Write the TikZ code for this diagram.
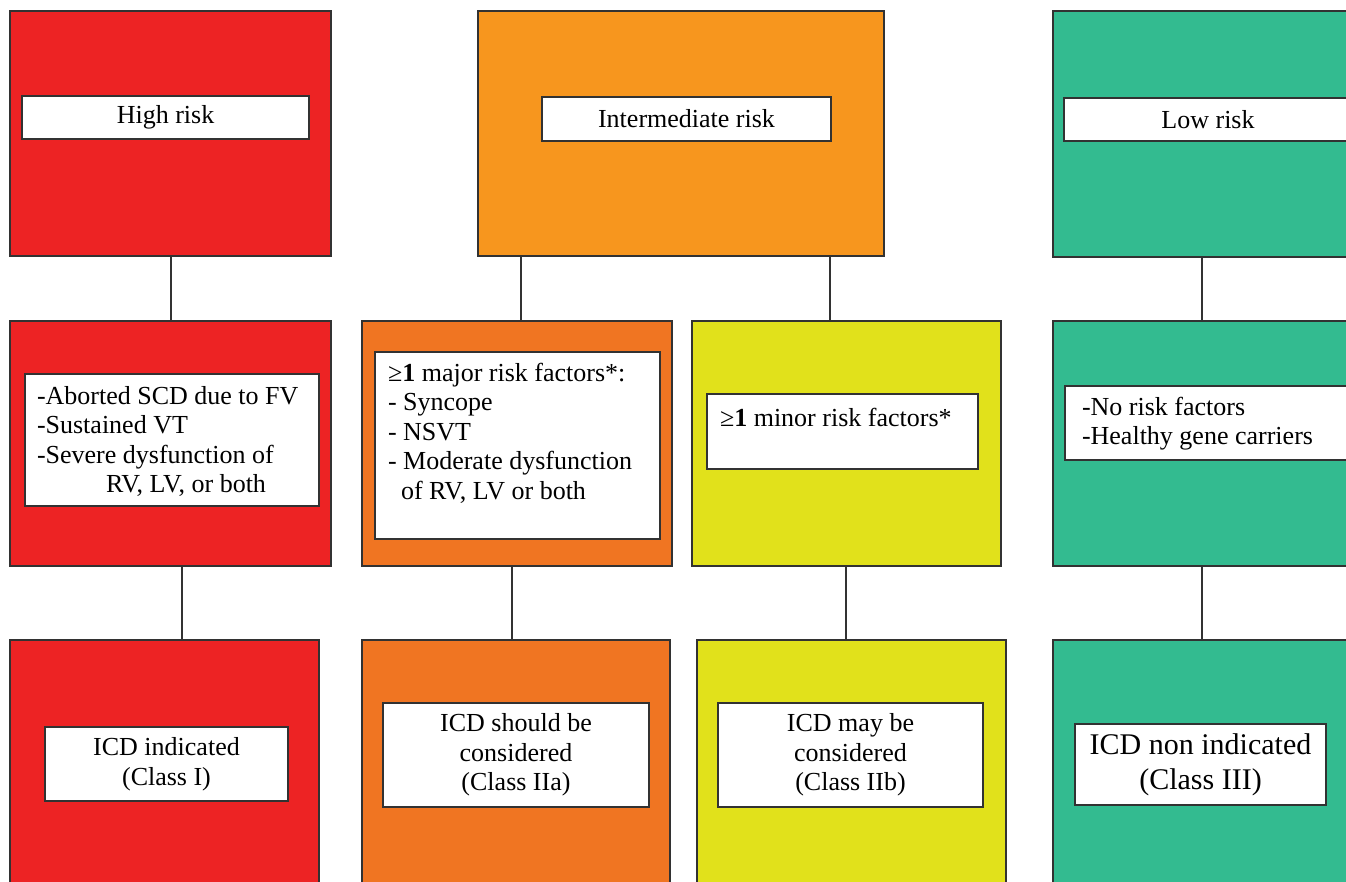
\documentclass[tikz,border=0pt]{standalone}
\usepackage{fontspec}
\setmainfont{Liberation Serif}
\definecolor{cred}{RGB}{237,35,36}
\definecolor{corangeA}{RGB}{247,150,30}
\definecolor{corangeB}{RGB}{240,117,34}
\definecolor{cyellow}{RGB}{225,225,27}
\definecolor{cgreen}{RGB}{51,187,144}
\definecolor{bordergray}{RGB}{50,50,50}
\begin{document}
\begin{tikzpicture}[x=1pt,y=-1pt,
  cbox/.style={draw=bordergray, line width=1.3pt, inner sep=0pt, outer sep=0pt},
  wbox/.style={draw=bordergray, fill=white, line width=1.3pt, inner sep=0pt, outer sep=0pt,
    font=\fontsize{26}{29.5}\selectfont, align=center},
  txt/.style={font=\fontsize{26}{29.5}\selectfont, inner sep=0pt, outer sep=0pt, align=left},
  link/.style={draw=bordergray, line width=1.3pt}]
\useasboundingbox (0,0) rectangle (1346,882);
\clip (0,0) rectangle (1346,882);
\fill[white] (0,0) rectangle (1346,882);

% top row
\node[cbox, fill=cred, minimum width=321pt, minimum height=245pt] (r1) at (170.5,133.5) {};
\node[cbox, fill=corangeA, minimum width=406pt, minimum height=245pt] (o1) at (681,133.5) {};
\node[cbox, fill=cgreen, minimum width=307pt, minimum height=246pt] (g1) at (1206.5,134) {};
\node[wbox, minimum width=287pt, minimum height=43pt] (r1w) at (165.5,117.5) {High risk};
\node[wbox, minimum width=289pt, minimum height=44pt] (o1w) at (686.5,119) {Intermediate risk};
\node[wbox, minimum width=288pt, minimum height=43pt] (g1w) at (1208,119.5) {Low risk};

% middle row
\node[cbox, fill=cred, minimum width=321pt, minimum height=245pt] (r2) at (170.5,443.5) {};
\node[cbox, fill=corangeB, minimum width=310pt, minimum height=245pt] (o2) at (517,443.5) {};
\node[cbox, fill=cyellow, minimum width=309pt, minimum height=245pt] (y2) at (846.5,443.5) {};
\node[cbox, fill=cgreen, minimum width=307pt, minimum height=245pt] (g2) at (1206.5,443.5) {};
\node[wbox, minimum width=294pt, minimum height=132pt] (r2w) at (172,440) {};
\node[wbox, minimum width=285pt, minimum height=187pt] (o2w) at (517.5,445.5) {};
\node[wbox, minimum width=271pt, minimum height=75pt] (y2w) at (842.5,431.5) {};
\node[wbox, minimum width=295pt, minimum height=74pt] (g2w) at (1212.5,423) {};
\node[txt, anchor=north west] (r2t) at (37,386)
  {-Aborted SCD due to FV\\-Sustained VT\\-Severe dysfunction of\\\hspace*{69pt}RV, LV, or both};
\node[txt, anchor=north west] (o2t) at (388,363)
  {≥\textbf{1} major risk factors*:\\- Syncope\\- NSVT\\- Moderate dysfunction\\\hspace*{13pt}of RV, LV or both};
\node[txt, anchor=base west] (y2t) at (720,426) {≥\textbf{1} minor risk factors*};
\node[txt, anchor=north west] (g2t) at (1082,397) {-No risk factors\\-Healthy gene carriers};

% bottom row
\node[cbox, fill=cred, minimum width=309pt, minimum height=260pt] (r3) at (164.5,770) {};
\node[cbox, fill=corangeB, minimum width=308pt, minimum height=260pt] (o3) at (516,770) {};
\node[cbox, fill=cyellow, minimum width=309pt, minimum height=260pt] (y3) at (851.5,770) {};
\node[cbox, fill=cgreen, minimum width=307pt, minimum height=260pt] (g3) at (1206.5,770) {};
\node[wbox, minimum width=243pt, minimum height=74pt] (r3w) at (166.5,764) {ICD indicated\\(Class I)};
\node[wbox, minimum width=266pt, minimum height=104pt] (o3w) at (516,755) {ICD should be\\considered\\(Class IIa)};
\node[wbox, minimum width=265pt, minimum height=104pt] (y3w) at (850.5,755) {ICD may be\\considered\\(Class IIb)};
\node[wbox, minimum width=251pt, minimum height=81pt, font=\fontsize{30}{35}\selectfont] (g3w) at (1200.5,764.5) {ICD non indicated\\(Class III)};

% connector positions
\coordinate (k1) at (171,0);
\coordinate (k2) at (521,0);
\coordinate (k3) at (830,0);
\coordinate (k4) at (1202,0);
\coordinate (k5) at (182,0);
\coordinate (k6) at (512,0);
\coordinate (k7) at (846,0);

\draw[link] (r1.south -| k1) -- (r2.north -| k1);
\draw[link] (o1.south -| k2) -- (o2.north -| k2);
\draw[link] (o1.south -| k3) -- (y2.north -| k3);
\draw[link] (g1.south -| k4) -- (g2.north -| k4);
\draw[link] (r2.south -| k5) -- (r3.north -| k5);
\draw[link] (o2.south -| k6) -- (o3.north -| k6);
\draw[link] (y2.south -| k7) -- (y3.north -| k7);
\draw[link] (g2.south -| k4) -- (g3.north -| k4);
\end{tikzpicture}
\end{document}
